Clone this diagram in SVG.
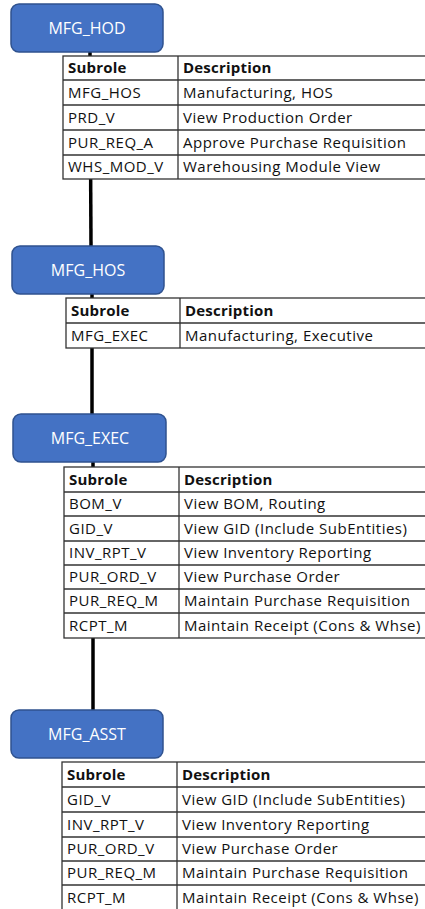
<svg xmlns="http://www.w3.org/2000/svg" width="425" height="909" viewBox="0 0 425 909">
<style>
.node rect{fill:#4472C4;stroke:#2F528F;stroke-width:1.5}
.node text{fill:#fff;font-family:"Open Sans","Liberation Sans",sans-serif;font-size:16px;text-anchor:middle}
.conn line{stroke:#000;stroke-width:3.5}
.tbl rect{fill:#fff;stroke:#333;stroke-width:1.3}
.tbl line{stroke:#333;stroke-width:1.3}
.tbl text{fill:#111;font-family:"Open Sans","Liberation Sans",sans-serif;font-size:15px;letter-spacing:0.5px}
.tbl .h{font-weight:bold;letter-spacing:0.2px}
</style>
<rect width="425" height="909" fill="#fff"/>
<g class="conn">
<line x1="90" y1="52" x2="91" y2="246"/>
<line x1="92" y1="294" x2="92" y2="414"/>
<line x1="93" y1="462" x2="93" y2="710"/>
</g>
<g id="MFG_HOD" class="node"><rect x="11" y="4" width="152" height="48" rx="8"/><text x="87" y="34">MFG_HOD</text></g>
<g id="tbl_HOD" class="tbl">
<rect x="63" y="56" width="370" height="123"/>
<line x1="178" y1="56" x2="178" y2="179"/>
<line x1="63" y1="80" x2="433" y2="80"/><line x1="63" y1="105" x2="433" y2="105"/><line x1="63" y1="130" x2="433" y2="130"/><line x1="63" y1="155" x2="433" y2="155"/>
<text class="h" x="68" y="73">Subrole</text><text class="h" x="183" y="73">Description</text>
<text x="68" y="98">MFG_HOS</text><text x="183" y="98">Manufacturing, HOS</text>
<text x="68" y="123">PRD_V</text><text x="183" y="123">View Production Order</text>
<text x="68" y="148">PUR_REQ_A</text><text x="183" y="148">Approve Purchase Requisition</text>
<text x="68" y="172">WHS_MOD_V</text><text x="183" y="172">Warehousing Module View</text>
</g>
<g id="MFG_HOS" class="node"><rect x="12" y="246" width="152" height="48" rx="8"/><text x="88" y="276">MFG_HOS</text></g>
<g id="tbl_HOS" class="tbl">
<rect x="66" y="298" width="370" height="50"/>
<line x1="180" y1="298" x2="180" y2="348"/>
<line x1="66" y1="323" x2="436" y2="323"/>
<text class="h" x="71" y="316">Subrole</text><text class="h" x="185" y="316">Description</text>
<text x="71" y="341">MFG_EXEC</text><text x="185" y="341">Manufacturing, Executive</text>
</g>
<g id="MFG_EXEC" class="node"><rect x="13" y="414" width="153" height="48" rx="8"/><text x="90" y="444">MFG_EXEC</text></g>
<g id="tbl_EXEC" class="tbl">
<rect x="64" y="467" width="370" height="171"/>
<line x1="179" y1="467" x2="179" y2="638"/>
<line x1="64" y1="492" x2="434" y2="492"/><line x1="64" y1="516" x2="434" y2="516"/><line x1="64" y1="541" x2="434" y2="541"/><line x1="64" y1="565" x2="434" y2="565"/><line x1="64" y1="589" x2="434" y2="589"/><line x1="64" y1="613" x2="434" y2="613"/>
<text class="h" x="69" y="485">Subrole</text><text class="h" x="184" y="485">Description</text>
<text x="69" y="509">BOM_V</text><text x="184" y="509">View BOM, Routing</text>
<text x="69" y="534">GID_V</text><text x="184" y="534">View GID (Include SubEntities)</text>
<text x="69" y="558">INV_RPT_V</text><text x="184" y="558">View Inventory Reporting</text>
<text x="69" y="582">PUR_ORD_V</text><text x="184" y="582">View Purchase Order</text>
<text x="69" y="606">PUR_REQ_M</text><text x="184" y="606">Maintain Purchase Requisition</text>
<text x="69" y="631">RCPT_M</text><text x="184" y="631">Maintain Receipt (Cons &amp; Whse)</text>
</g>
<g id="MFG_ASST" class="node"><rect x="11" y="710" width="152" height="48" rx="8"/><text x="87" y="740">MFG_ASST</text></g>
<g id="tbl_ASST" class="tbl">
<rect x="62" y="762" width="370" height="148"/>
<line x1="177" y1="762" x2="177" y2="910"/>
<line x1="62" y1="787" x2="432" y2="787"/><line x1="62" y1="812" x2="432" y2="812"/><line x1="62" y1="837" x2="432" y2="837"/><line x1="62" y1="861" x2="432" y2="861"/><line x1="62" y1="885" x2="432" y2="885"/>
<text class="h" x="67" y="780">Subrole</text><text class="h" x="182" y="780">Description</text>
<text x="67" y="805">GID_V</text><text x="182" y="805">View GID (Include SubEntities)</text>
<text x="67" y="830">INV_RPT_V</text><text x="182" y="830">View Inventory Reporting</text>
<text x="67" y="854">PUR_ORD_V</text><text x="182" y="854">View Purchase Order</text>
<text x="67" y="878">PUR_REQ_M</text><text x="182" y="878">Maintain Purchase Requisition</text>
<text x="67" y="903">RCPT_M</text><text x="182" y="903">Maintain Receipt (Cons &amp; Whse)</text>
</g>
</svg>
